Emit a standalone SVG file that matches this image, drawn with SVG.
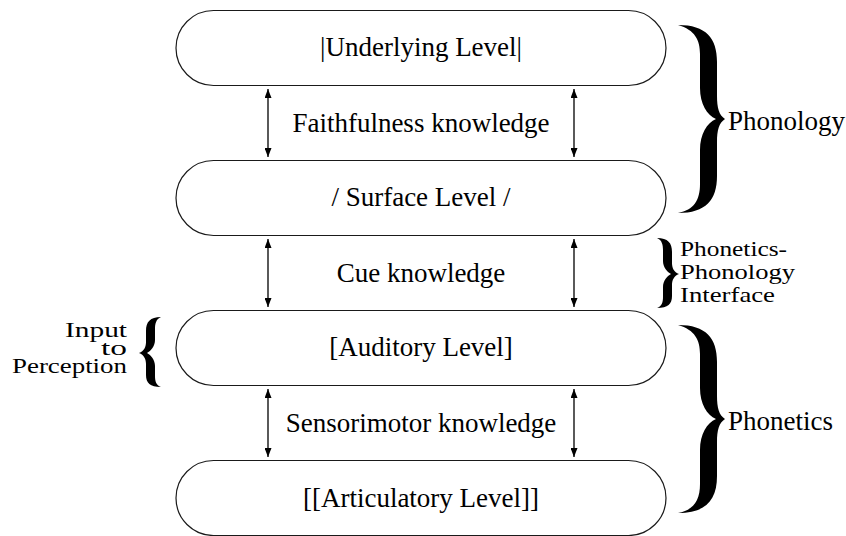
<svg xmlns="http://www.w3.org/2000/svg" width="846" height="536" viewBox="0 0 846 536">
<defs>
<style>
.box{fill:#fff;stroke:#1a1a1a;stroke-width:1.2}
text{font-family:'Liberation Serif','Times New Roman',serif;fill:#000}
.t{font-size:27px}
.c{text-anchor:middle}
.s{font-size:22px}
.arr{stroke:#000;stroke-width:1.3;fill:none;marker-start:url(#ah);marker-end:url(#ah)}
.br{fill:#000;stroke:none}
</style>
<marker id="ah" viewBox="0 0 9 7" refX="9" refY="3.5" markerUnits="userSpaceOnUse" markerWidth="9" markerHeight="7" orient="auto-start-reverse">
<path d="M0,0 L9,3.5 L0,7 z" fill="#000"/>
</marker>
<path id="bigbrace" d="M678,25 C706,25 717,38 717,62 L717,96 C717,108 719,115 725,119 C719,123 717,130 717,142 L717,176 C717,200 706,213 678,213 C694,210 700,200 700,184 L700,150 C700,134 707,123 716,119 C707,115 700,104 700,88 L700,54 C700,40 695,30 678,25 Z"/>
<path id="smallbrace" d="M657,238 C668,238 672,243 672,252 L672,263 C672,268 674,272 679,274 C674,276 672,280 672,285 L672,296 C672,304 668,308 657,308 C662,306 663,302 663,297 L663,287 C663,281 667,276 671,274 C667,272 663,267 663,261 L663,250 C663,245 662,240 657,238 Z"/>
</defs>
<rect width="846" height="536" fill="#fff"/>

<g id="connectors">
<line class="arr" x1="268" y1="89" x2="268" y2="157"/>
<line class="arr" x1="574" y1="89" x2="574" y2="157"/>
<line class="arr" x1="268" y1="239" x2="268" y2="307"/>
<line class="arr" x1="574" y1="239" x2="574" y2="307"/>
<line class="arr" x1="268" y1="389" x2="268" y2="457"/>
<line class="arr" x1="574" y1="389" x2="574" y2="457"/>
</g>

<g id="underlying">
<rect class="box" x="176" y="10.5" width="490" height="75" rx="37.5" ry="37.5"/>
<text class="t c" x="421" y="56">|Underlying Level|</text>
</g>
<g id="surface">
<rect class="box" x="176" y="160.5" width="490" height="75" rx="37.5" ry="37.5"/>
<text class="t c" x="421" y="206">/ Surface Level /</text>
</g>
<g id="auditory">
<rect class="box" x="176" y="310.5" width="490" height="75" rx="37.5" ry="37.5"/>
<text class="t c" x="421" y="356">[Auditory Level]</text>
</g>
<g id="articulatory">
<rect class="box" x="176" y="460.5" width="490" height="75" rx="37.5" ry="37.5"/>
<text class="t c" x="421" y="507">[[Articulatory Level]]</text>
</g>

<g id="knowledge-labels">
<text class="t c" x="421" y="132">Faithfulness knowledge</text>
<text class="t c" x="421" y="282">Cue knowledge</text>
<text class="t c" x="421" y="432">Sensorimotor knowledge</text>
</g>

<g id="phonology">
<use href="#bigbrace" class="br"/>
<text class="t" x="728" y="130">Phonology</text>
</g>
<g id="interface">
<use href="#smallbrace" class="br"/>
<text class="s" x="680" y="256" textLength="107" lengthAdjust="spacingAndGlyphs">Phonetics-</text>
<text class="s" x="680" y="279" textLength="115" lengthAdjust="spacingAndGlyphs">Phonology</text>
<text class="s" x="680" y="302" textLength="95" lengthAdjust="spacingAndGlyphs">Interface</text>
</g>
<g id="phonetics">
<use href="#bigbrace" class="br" transform="translate(0,300)"/>
<text class="t" x="728" y="430">Phonetics</text>
</g>
<g id="input-to-perception">
<use href="#smallbrace" class="br" transform="translate(818,79) scale(-1,1)"/>
<text class="s" x="127" y="337" text-anchor="end" textLength="62" lengthAdjust="spacingAndGlyphs">Input</text>
<text class="s" x="127" y="355" text-anchor="end" textLength="26" lengthAdjust="spacingAndGlyphs">to</text>
<text class="s" x="127" y="373" text-anchor="end" textLength="115" lengthAdjust="spacingAndGlyphs">Perception</text>
</g>
</svg>
